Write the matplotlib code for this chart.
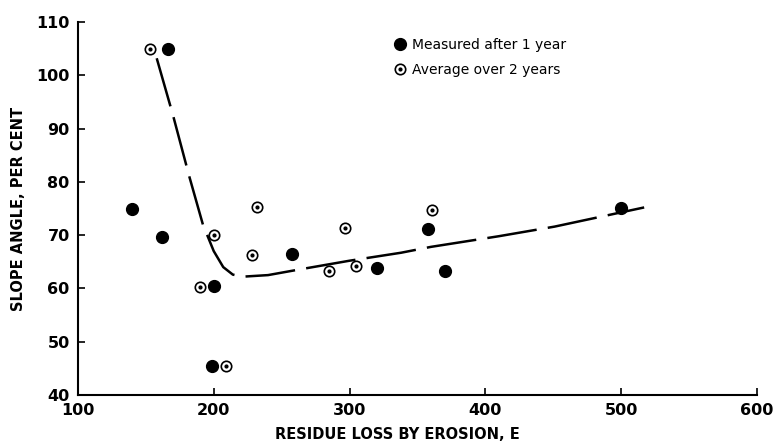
import matplotlib
matplotlib.use("Agg")
import matplotlib.pyplot as plt
from matplotlib.lines import Line2D

# Measured after 1 year (filled)
meas_x = [140, 166, 162, 200, 199, 258, 320, 358, 370, 500]
meas_y = [75.0, 105.0, 69.7, 60.4, 45.5, 66.5, 63.8, 71.1, 63.2, 75.1]

# Average over 2 years (dotted circle)
avg_x = [153, 200, 190, 209, 228, 232, 285, 297, 305, 361]
avg_y = [105.0, 70.0, 60.3, 45.5, 66.3, 75.3, 63.2, 71.4, 64.2, 74.8]

# hand-drawn trend curve
curve_x = [158, 170, 182, 192, 200, 207, 214, 221, 240, 264, 300, 338, 360, 410, 451, 517]
curve_y = [103.2, 92.5, 81.0, 72.0, 67.0, 64.0, 62.6, 62.2, 62.5, 63.6, 65.2, 66.7, 67.8, 69.8, 71.6, 75.2]

xticks = [100, 200, 300, 400, 500, 600]
yticks = [40, 50, 60, 70, 80, 90, 100, 110]

plt.rcParams["font.family"] = "DejaVu Sans"

fig = plt.figure(figsize=(7.75, 4.44), dpi=100)
ax = fig.add_axes([0.1006, 0.1104, 0.876, 0.840])

ax.plot(curve_x, curve_y, color="black", lw=1.8, dashes=(20, 4.5), solid_capstyle="butt")

ax.plot(meas_x, meas_y, "o", ms=8.5, color="black", ls="none", zorder=3)
ax.plot(avg_x, avg_y, "o", ms=7.5, mfc="white", mec="black", mew=1.2, ls="none", zorder=3)
ax.plot(avg_x, avg_y, "o", ms=2.0, color="black", ls="none", zorder=4)

ax.set_xlim(100, 600)
ax.set_ylim(40, 110)
ax.set_xticks(xticks)
ax.set_yticks(yticks)
ax.spines["top"].set_visible(False)
ax.spines["right"].set_visible(False)
for s in ("left", "bottom"):
    ax.spines[s].set_linewidth(1.5)
ax.tick_params(direction="in", length=5, width=1.2, labelsize=11.5, pad=6)
for lab in ax.get_xticklabels() + ax.get_yticklabels():
    lab.set_fontweight("bold")

ax.set_xlabel("RESIDUE LOSS BY EROSION, E", fontsize=10.5, fontweight="bold")
ax.set_ylabel("SLOPE ANGLE, PER CENT", fontsize=10.5, fontweight="bold")
ax.xaxis.set_label_coords(0.47, -0.085)
ax.yaxis.set_label_coords(-0.077, 0.5)

h_meas = Line2D([], [], marker="o", ms=8.5, color="black", ls="none")
h_open = Line2D([], [], marker="o", ms=7.5, mfc="white", mec="black", mew=1.2, ls="none")
h_dot = Line2D([], [], marker="o", ms=2.0, color="black", ls="none")
ax.legend([h_meas, (h_open, h_dot)], ["Measured after 1 year", "Average over 2 years"],
          loc="upper left", bbox_to_anchor=(0.445, 0.99), frameon=False,
          handlelength=1.0, handletextpad=0.4, labelspacing=0.75,
          prop={"size": 10})

fig.savefig("out.png", dpi=100)
